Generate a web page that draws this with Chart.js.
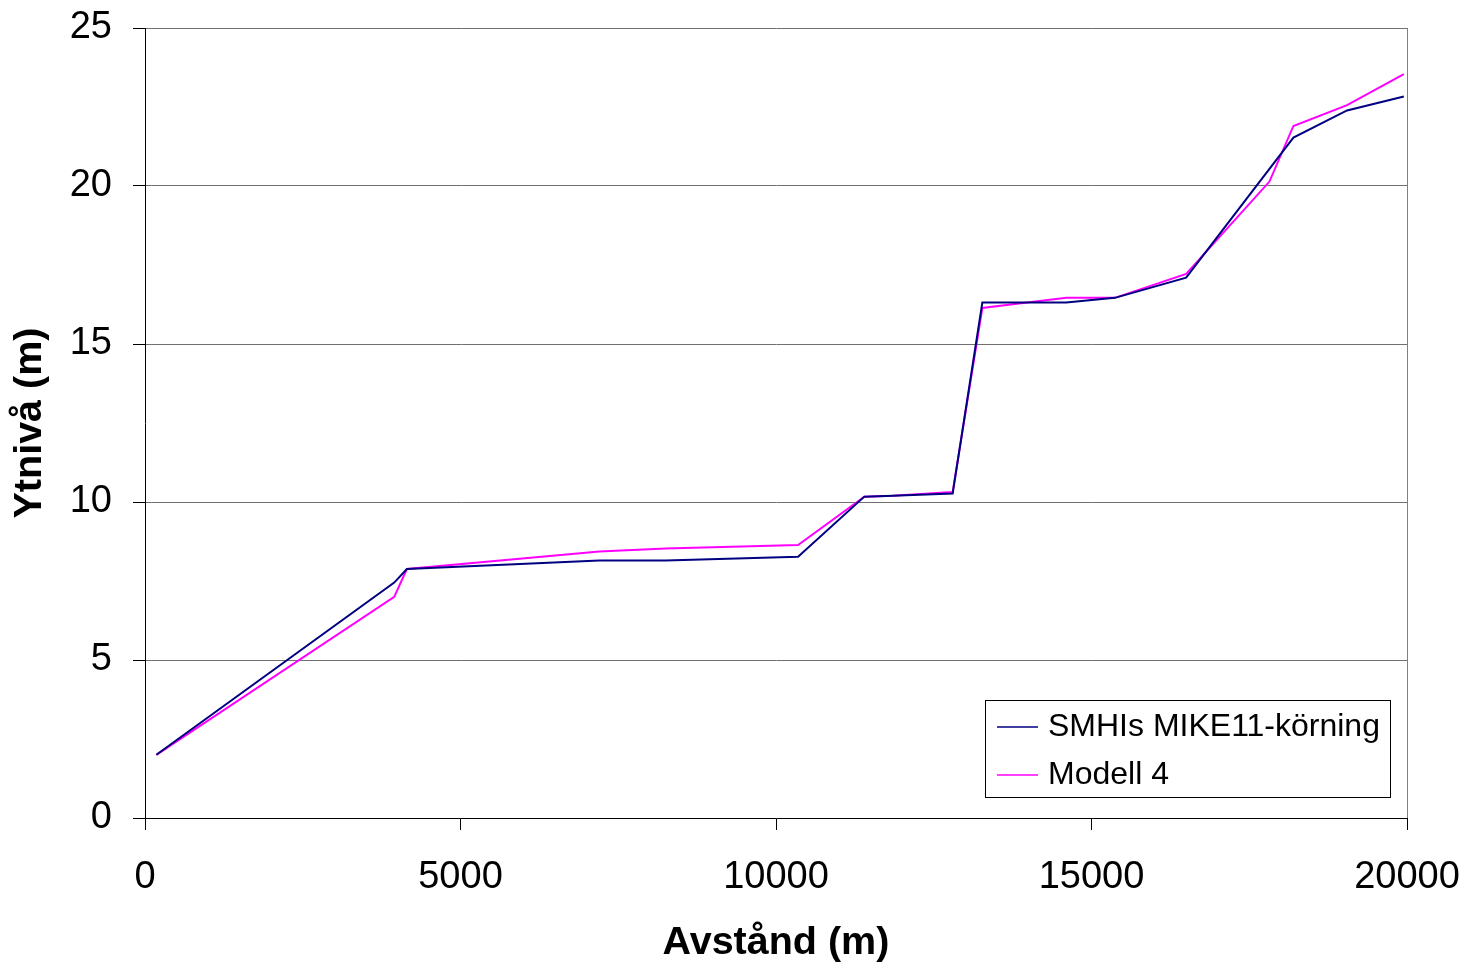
<!DOCTYPE html>
<html>
<head>
<meta charset="utf-8">
<script src="https://cdn.jsdelivr.net/npm/chart.js@4"></script>
<style>
  html, body { margin: 0; padding: 0; background: #fff; overflow: hidden; }
  #wrap { width: 1462px; height: 978px; position: relative; }
</style>
</head>
<body>
<div id="wrap"><canvas id="chart"></canvas></div>
<script>
// distance along river (m) and water level (m)
const smhiX = [180, 3950, 4150, 7200, 8250, 10350, 11400, 11850, 12800, 13270, 14600, 15370, 16500, 18200, 19050, 19950];
const smhiY = [2.0, 7.45, 7.88, 8.15, 8.15, 8.27, 10.17, 10.2, 10.27, 16.31, 16.31, 16.46, 17.1, 21.53, 22.39, 22.83];
const modellX = [180, 3950, 4150, 7200, 8250, 10350, 11400, 11850, 12800, 13270, 14600, 15370, 16500, 17820, 18200, 19050, 19950];
const modellY = [2.0, 7.0, 7.88, 8.43, 8.53, 8.64, 10.17, 10.2, 10.32, 16.14, 16.46, 16.46, 17.22, 20.14, 21.9, 22.56, 23.54];
const seriesNames = ['SMHIs MIKE11-körning', 'Modell 4'];
const xTicks = [0, 5000, 10000, 15000, 20000];
const yTicks = [0, 5, 10, 15, 20, 25];

const FONT = '"Liberation Sans", Arial, sans-serif';

function toPoints(xs, ys) {
    return xs.map(function(x, i) { return {x: x, y: ys[i]}; });
}

// legend box drawn inside the plot, like the original
const boxLegend = {
    id: 'boxLegend',
    afterDraw: function(chart) {
        const ctx = chart.ctx;
        const area = chart.chartArea;
        const left = area.right - 422;
        const top = area.bottom - 118;
        ctx.save();
        ctx.fillStyle = '#fff';
        ctx.fillRect(left, top, 405, 97);
        ctx.strokeStyle = '#000';
        ctx.lineWidth = 1;
        ctx.strokeRect(left + 0.5, top + 0.5, 405, 97);
        ctx.font = '32px ' + FONT;
        ctx.textBaseline = 'middle';
        ctx.textAlign = 'left';
        chart.data.datasets.forEach(function(ds, i) {
            const y = top + 27 + i * 48;
            ctx.strokeStyle = ds.borderColor;
            ctx.lineWidth = 1.5;
            ctx.beginPath();
            ctx.moveTo(left + 12, y);
            ctx.lineTo(left + 53, y);
            ctx.stroke();
            ctx.fillStyle = '#000';
            ctx.fillText(ds.label, left + 63, y);
        });
        ctx.restore();
    }
};

new Chart(document.getElementById('chart'), {
    type: 'scatter',
    data: {
        datasets: [{
            label: seriesNames[0],
            data: toPoints(smhiX, smhiY),
            borderColor: '#000080',
            backgroundColor: '#000080',
            showLine: true,
            borderWidth: 2,
            pointRadius: 0,
            tension: 0
        }, {
            label: seriesNames[1],
            data: toPoints(modellX, modellY),
            borderColor: '#ff00ff',
            backgroundColor: '#ff00ff',
            showLine: true,
            borderWidth: 2,
            pointRadius: 0,
            tension: 0
        }]
    },
    options: {
        responsive: true,
        maintainAspectRatio: false,
        animation: false,
        layout: { padding: { top: 28, right: 55, left: 0, bottom: 0 } },
        plugins: {
            legend: { display: false },
            tooltip: { enabled: false }
        },
        scales: {
            x: {
                type: 'linear',
                min: 0,
                max: 20000,
                afterBuildTicks: function(scale) {
                    scale.ticks = xTicks.map(function(v) { return {value: v}; });
                },
                afterFit: function(scale) {
                    scale.height = 160;
                    scale.paddingLeft = 0;
                    scale.paddingRight = 0;
                },
                ticks: {
                    color: '#000',
                    padding: 25,
                    maxRotation: 0,
                    autoSkip: false,
                    font: { family: FONT, size: 38 },
                    callback: function(v) { return String(v); }
                },
                grid: {
                    drawOnChartArea: true,
                    drawTicks: true,
                    tickLength: 12,
                    tickColor: '#000',
                    color: function(ctx) {
                        return ctx.tick && ctx.tick.value === 20000 ? '#808080' : 'rgba(0,0,0,0)';
                    }
                },
                border: { display: true, color: '#000', width: 1 },
                title: {
                    display: true,
                    text: 'Avstånd (m)',
                    color: '#000',
                    padding: { top: 0, bottom: 11 },
                    font: { family: FONT, size: 39.5, weight: 'bold' }
                }
            },
            y: {
                type: 'linear',
                min: 0,
                max: 25,
                afterBuildTicks: function(scale) {
                    scale.ticks = yTicks.map(function(v) { return {value: v}; });
                },
                afterFit: function(scale) {
                    scale.width = 145;
                    scale.paddingTop = 0;
                    scale.paddingBottom = 0;
                },
                ticks: {
                    color: '#000',
                    padding: 21,
                    font: { family: FONT, size: 38 }
                },
                grid: {
                    color: '#707070',
                    tickColor: '#000',
                    tickLength: 12,
                    lineWidth: 1
                },
                border: { display: true, color: '#000', width: 1 },
                title: {
                    display: true,
                    text: 'Ytnivå (m)',
                    color: '#000',
                    padding: { top: 6, bottom: 0 },
                    font: { family: FONT, size: 39.5, weight: 'bold' }
                }
            }
        }
    },
    plugins: [boxLegend]
});
</script>
</body>
</html>
